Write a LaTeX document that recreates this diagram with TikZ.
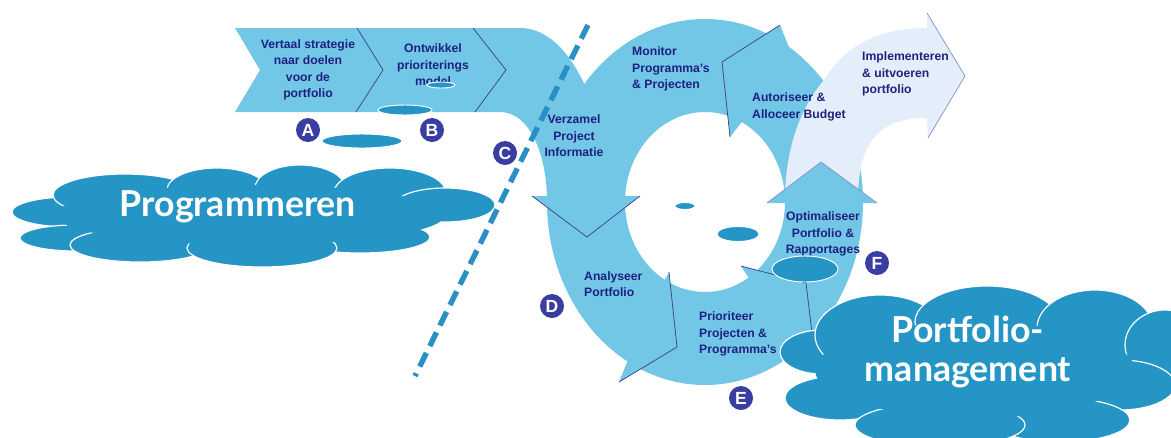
\documentclass[tikz,border=0pt]{standalone}
\usepackage{fontspec}
\setmainfont{Liberation Sans}
\newfontfamily\cloudfont{Lato}
\usetikzlibrary{positioning}

\definecolor{ringblue}{HTML}{72C6E6}
\definecolor{paleblue}{HTML}{E4EEFA}
\definecolor{cloudblue}{HTML}{2595C6}
\definecolor{navytext}{HTML}{1E2080}
\definecolor{badgeblue}{HTML}{3A3EA0}
\definecolor{rimnavy}{HTML}{3A3D8C}
\definecolor{rimlilac}{HTML}{8A8EC8}
\definecolor{dashblue}{HTML}{2A8FC4}

\tikzset{
  lbl/.style={text=navytext, font=\fontsize{10.4}{14}\selectfont\bfseries, inner sep=0pt},
  badge/.style={circle, fill=badgeblue, text=white, minimum size=0.72cm, inner sep=0pt,
    font=\fontsize{15}{15}\selectfont\bfseries},
  puff/.style={fill=cloudblue, draw=white, line width=1pt},
  blob/.style={fill=cloudblue, draw=white, line width=0.8pt},
  rim/.style={draw=rimnavy, line width=0.6pt},
  softrim/.style={draw=rimlilac, line width=0.6pt},
  cloudtext/.style={text=white, font=\cloudfont\fontsize{30.5}{33}\selectfont\bfseries,
    align=center, inner sep=0pt}
}

\begin{document}
\begin{tikzpicture}[x=0.03cm, y=-0.03cm]
    \useasboundingbox (0,0) rectangle (1171,437);
    \clip (0,0) rectangle (1171,437);
    % Band with chevrons
    \fill[ringblue] (235,28) -- (520,28) .. controls (552,28) and (574,60) .. (587,90)
        -- (600,140) -- (547,200) .. controls (547,160) and (532,112) .. (500,112)
        -- (235,112) -- (260,70) -- cycle;
    % Ring
    \fill[ringblue, even odd rule] (705,202) ellipse [x radius=158, y radius=183]
        (705,202) ellipse [x radius=80, y radius=90];
    % Arrow heads on the ring
    \fill[ringblue] (532,196) -- (587,237) -- (640,196) -- cycle;
    \fill[ringblue] (780,25) -- (722,62) -- (730,137) -- (745,118) -- (792,55) -- cycle;
    \fill[ringblue] (669,272) -- (677,347) -- (619,382) -- (628,360) -- (650,320) -- (664,281) -- cycle;
    \fill[ringblue] (741,266) -- (806,283) -- (812,333) -- (790,330) -- (752,283) -- cycle;
    % Pale arrow
    \fill[paleblue] (824,80) .. controls (845,45) and (880,28) .. (927,28) -- (927,13)
        -- (965,76) -- (928,138) -- (927,118) .. controls (880,118) and (858,140) .. (858,200)
        -- (785,200) .. controls (785,150) and (800,108) .. (824,80) -- cycle;
    % Up arrow head
    \fill[ringblue] (767,203) -- (821,162) -- (877,203) -- cycle;
    % Outlines
    \draw[rim] (357,28) -- (383,70) -- (356,112);
    \draw[rim] (473,28) -- (506,70) -- (475,112);
    \draw[rim] (532,196) -- (587,237) -- (640,196);
    \draw[rim] (780,25) -- (722,62) -- (730,137);
    \draw[rim] (669,272) -- (677,347) -- (619,382);
    \draw[rim] (741,266) -- (806,283) -- (812,333);
    \draw[softrim] (927,13) -- (965,76) -- (928,138);
    \draw[softrim] (767,203) -- (821,162) -- (877,203);
    % Labels
    \node[lbl, align=center] (vertaal) at (308,70) {Vertaal strategie\\naar doelen\\voor de\\portfolio};
    \node[lbl, align=center] (ontwikkel) at (433,65) {Ontwikkel\\prioriterings\\model};
    \node[lbl, align=center] (verzamel) at (574,136) {Verzamel\\Project\\Informatie};
    \node[lbl, align=left, anchor=west] (monitor) at (632,69) {Monitor\\Programma's\\\& Projecten};
    \node[lbl, align=left, anchor=west] (autoriseer) at (752,107) {Autoriseer \&\\Alloceer Budget};
    \node[lbl, align=left, anchor=west] (implementeren) at (862,74) {Implementeren\\\& uitvoeren\\portfolio};
    \node[lbl, align=center] (optimaliseer) at (823,234) {Optimaliseer\\Portfolio \&\\Rapportages};
    \node[lbl, align=left, anchor=west] (analyseer) at (584,284) {Analyseer\\Portfolio};
    \node[lbl, align=left, anchor=west] (prioriteer) at (699,334) {Prioriteer\\Projecten \&\\Programma's};
    % Blue ellipses
    \filldraw[blob] (362,141) ellipse [x radius=40, y radius=7];
    \filldraw[blob] (405,110) ellipse [x radius=27, y radius=5];
    \filldraw[blob] (441,85) ellipse [x radius=14, y radius=3];
    \filldraw[blob] (685,206) ellipse [x radius=10, y radius=3.5];
    \filldraw[blob] (738,234) ellipse [x radius=21, y radius=7.5];
    \filldraw[blob] (805,269) ellipse [x radius=33, y radius=13];
    % Cloud left
    \foreach \cx/\cy/\rx/\ry in {70/212/58/15, 75/238/55/13, 125/195/72/21, 217/190/50/22,
        300/188/45/23, 390/193/56/25, 445/205/50/17, 360/237/70/16, 140/245/70/17, 262/248/75/19}
        \filldraw[puff] (\cx,\cy) ellipse [x radius=\rx, y radius=\ry];
    \fill[cloudblue] (250,215) ellipse [x radius=195, y radius=30];
    \node[cloudtext] (programmeren) at (238,207) {Programmeren};
    % Cloud right
    \foreach \cx/\cy/\rx/\ry in {822/352/42/22, 840/398/55/22, 880/335/65/40, 987/322/72/36,
        1095/328/58/38, 1165/345/40/35, 1120/385/55/25, 1060/420/70/22, 940/425/85/22}
        \filldraw[puff] (\cx,\cy) ellipse [x radius=\rx, y radius=\ry];
    \fill[cloudblue] (975,370) ellipse [x radius=160, y radius=48];
    \node[cloudtext] (portfolio) at (968,352) {Portfolio-\\management};
    % Dashed divider
    \coordinate (cutTop) at (588,25);
    \coordinate (cutBot) at (415,376);
    \draw[dashblue, line width=4.6pt, dash pattern=on 13pt off 6.5pt] (cutTop) -- (cutBot);
    % Letters
    \node[badge] (markA) at (308,130) {A};
    \node[badge] (markB) at (432,130) {B};
    \node[badge] (markC) at (505,153) {C};
    \node[badge] (markD) at (552,306) {D};
    \node[badge] (markE) at (741,398) {E};
    \node[badge] (markF) at (877,263) {F};
\end{tikzpicture}
\end{document}
